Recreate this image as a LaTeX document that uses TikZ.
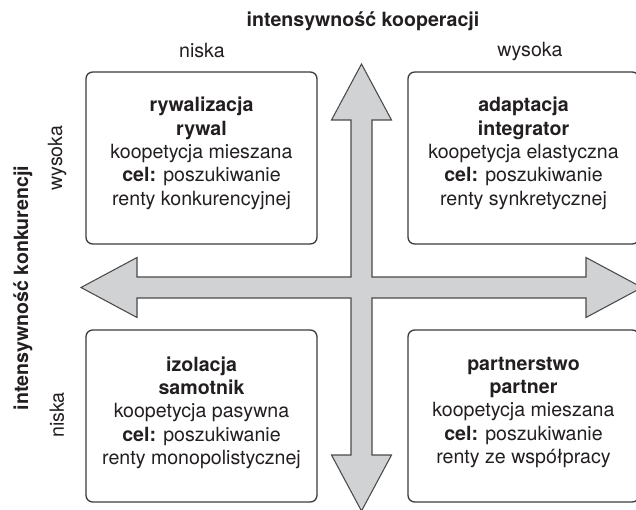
\documentclass[tikz,border=0pt]{standalone}
\usepackage{fontspec}
\setmainfont{TeX Gyre Heros}
\definecolor{arrowfill}{HTML}{D1D2D4}
\definecolor{arrowline}{HTML}{4A4A4A}
\definecolor{boxline}{HTML}{3A3A3A}
\definecolor{txt}{HTML}{231F20}
\begin{document}
\begin{tikzpicture}[x=0.75pt,y=-0.75pt,
  every node/.style={text=txt,font=\fontsize{14.7}{17.5}\selectfont},
  quad/.style={draw=boxline,line width=1pt,rounded corners=5pt,minimum width=231*0.75pt,minimum height=172*0.75pt,inner sep=0pt},
  quadtxt/.style={align=center,inner sep=0pt},
  lbl/.style={inner sep=0pt},
  ttl/.style={inner sep=0pt,font=\fontsize{14.7}{17.5}\selectfont\bfseries}]
\useasboundingbox (0,0) rectangle (636,510);
\clip (0,0) rectangle (636,510);
% cross-shaped double arrows
\coordinate (C) at (361.5,287.5);
\filldraw[fill=arrowfill,draw=arrowline,line width=0.8pt,line join=miter]
  (361.5,64) -- (391.5,120) -- (372,120) -- (372,277) -- (586,277) -- (586,257.5)
  -- (642,287.5) -- (586,317.5) -- (586,298) -- (372,298) -- (372,455) -- (391.5,455)
  -- (361.5,511) -- (331.5,455) -- (351,455) -- (351,298) -- (137,298) -- (137,317.5)
  -- (81,287.5) -- (137,257.5) -- (137,277) -- (351,277) -- (351,120) -- (331.5,120) -- cycle;
% boxes
\node[quad] (q1) at (201.5,158) {};
\node[quad] (q2) at (523.5,158) {};
\node[quad] (q3) at (201.5,416) {};
\node[quad] (q4) at (523.5,416) {};
\node[quadtxt] (t1) at (201.5,153.5) {\textbf{rywalizacja}\\\textbf{rywal}\\koopetycja mieszana\\\textbf{cel:} poszukiwanie\\renty konkurencyjnej};
\node[quadtxt] (t2) at (523.5,153.5) {\textbf{adaptacja}\\\textbf{integrator}\\koopetycja elastyczna\\\textbf{cel:} poszukiwanie\\renty synkretycznej};
\node[quadtxt] (t3) at (201.5,412.5) {\textbf{izolacja}\\\textbf{samotnik}\\koopetycja pasywna\\\textbf{cel:} poszukiwanie\\renty monopolistycznej};
\node[quadtxt] (t4) at (523.5,412.5) {\textbf{partnerstwo}\\\textbf{partner}\\koopetycja mieszana\\\textbf{cel:} poszukiwanie\\renty ze współpracy};
% axis labels
\node[ttl] (tx) at (363,21) {intensywność kooperacji};
\node[lbl] (xl) at (202,51) {niska};
\node[lbl] (xh) at (530,51) {wysoka};
\node[ttl,rotate=90] (ty) at (23,288) {intensywność konkurencji};
\node[lbl,rotate=90] (yh) at (57,158) {wysoka};
\node[lbl,rotate=90] (yl) at (57,415) {niska};
\end{tikzpicture}
\end{document}
